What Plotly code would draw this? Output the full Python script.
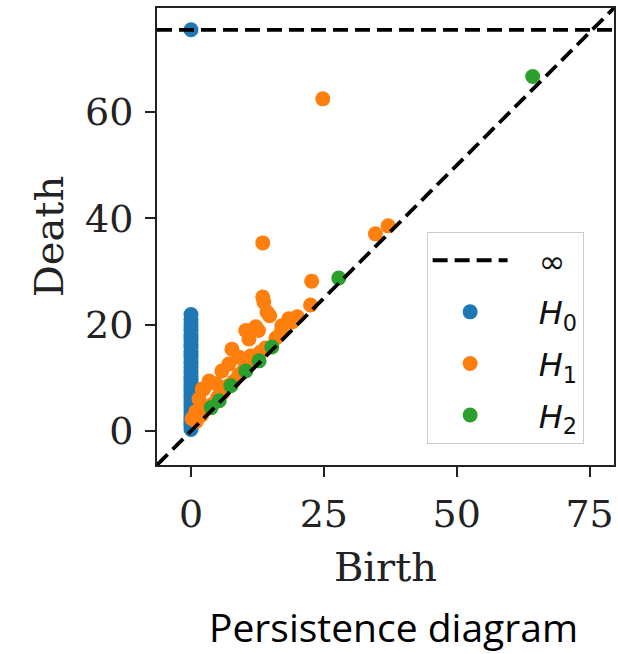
import plotly.graph_objects as go

# ---------------- data ----------------
INF_LEVEL = 75.5
AXIS_MIN = -6.4
AXIS_MAX = 79.6

h0_birth = [0.0] * 39
h0_death = [0.3, 0.8, 1.2, 1.7, 2.1, 2.6, 3.0, 3.5, 4.1, 4.6, 5.2, 5.8, 6.3,
            6.9, 7.4, 8.0, 8.6, 9.1, 9.7, 10.3, 10.9, 11.4, 12.0, 12.6, 13.1,
            13.8, 14.4, 15.0, 15.7, 16.3, 17.0, 17.6, 18.2, 18.9, 19.6, 20.3,
            21.0, 21.9, 75.5]

h1_birth = [0.2, 0.9, 1.5, 2.4, 3.4, 4.7, 5.8, 7.1, 7.7, 9.0, 11.2, 10.3, 10.9,
            12.7, 12.2, 13.7, 13.5, 14.3, 14.8, 17.1, 18.4, 13.5, 22.7, 22.5,
            24.8, 34.7, 37.1, 1.0, 2.0, 3.0, 4.0, 5.0, 6.0, 7.0, 8.0, 9.0,
            10.0, 11.0, 12.0, 13.0, 14.0, 16.0, 17.0, 19.0, 20.0, 2.1, 1.5]
h1_death = [2.3, 3.6, 6.0, 7.9, 9.4, 8.9, 11.3, 12.6, 15.4, 13.9, 14.1, 18.9, 17.3,
            18.9, 19.6, 24.3, 25.2, 22.4, 21.7, 19.8, 21.1, 35.4, 28.2, 23.7,
            62.5, 37.1, 38.6, 1.8, 3.0, 4.2, 5.0, 6.3, 7.2, 8.5, 9.3, 10.6,
            11.5, 12.8, 13.5, 14.8, 15.6, 17.5, 18.8, 20.5, 21.5, 7.9, 2.8]

h2_birth = [64.3, 27.8, 15.2, 12.8, 10.3, 7.5, 5.3, 3.8]
h2_death = [66.7, 28.8, 15.8, 13.2, 11.3, 8.5, 5.7, 4.4]

x_ticks = [0, 25, 50, 75]
y_ticks = [0, 20, 40, 60]

# ---------------- figure ----------------
fig = go.Figure()

PAD = "\u2002\u00a0"
COLORS = ["#1f77b4", "#ff7f0e", "#2ca02c"]
series = [(h0_birth, h0_death, PAD + "<i>H</i><sub>0</sub>"),
          (h1_birth, h1_death, PAD + "<i>H</i><sub>1</sub>"),
          (h2_birth, h2_death, PAD + "<i>H</i><sub>2</sub>")]

for i, (bx, dy, name) in enumerate(series):
    fig.add_trace(go.Scatter(
        x=bx, y=dy, mode="markers", name=name,
        marker=dict(color=COLORS[i], size=15, line=dict(width=0)),
        legendgroup=f"g{i+1}", legendrank=i + 2, cliponaxis=True,
    ))

# diagonal
fig.add_trace(go.Scatter(
    x=[AXIS_MIN, AXIS_MAX], y=[AXIS_MIN, AXIS_MAX], mode="lines",
    line=dict(color="black", width=3.8, dash="15px,7px"),
    showlegend=False, hoverinfo="skip",
))
# infinity line
fig.add_trace(go.Scatter(
    x=[AXIS_MIN, AXIS_MAX], y=[INF_LEVEL, INF_LEVEL], mode="lines",
    name=PAD + "∞", legendgroup="g0", legendrank=1,
    line=dict(color="black", width=3.8, dash="15px,7px"),
    hoverinfo="skip",
))

axis_common = dict(
    range=[AXIS_MIN, AXIS_MAX],
    showgrid=False, zeroline=False,
    showline=True, linecolor="#222222", linewidth=2, mirror=True,
    ticks="outside", ticklen=10, tickwidth=1.5, tickcolor="#222222",
    ticklabelstandoff=4,
    tickfont=dict(family="DejaVu Serif", size=38, color="#222222"),
)

fig.update_layout(
    width=618, height=654,
    margin=dict(l=157, r=2, t=8, b=189),
    paper_bgcolor="white", plot_bgcolor="white",
    xaxis=dict(**axis_common, tickvals=x_ticks,
               title=dict(text="Birth", standoff=18,
                          font=dict(family="DejaVu Serif", size=40, color="#222222"))),
    yaxis=dict(**axis_common, tickvals=y_ticks,
               title=dict(text="Death", standoff=9,
                          font=dict(family="DejaVu Serif", size=40, color="#222222"))),
    legend=dict(
        x=0.59, y=0.51, xanchor="left", yanchor="top",
        bgcolor="white", bordercolor="#cccccc", borderwidth=1,
        font=dict(family="DejaVu Sans", size=32, color="#111111"),
        traceorder="grouped", tracegroupgap=7, itemwidth=75,
    ),
    showlegend=True,
    annotations=[dict(
        text="Persistence diagram", xref="paper", yref="paper",
        x=0.5185, y=-0.3534, xanchor="center", yanchor="middle",
        showarrow=False, font=dict(family="Open Sans", size=39, color="black"),
    )],
)

fig.write_html("out.html")
